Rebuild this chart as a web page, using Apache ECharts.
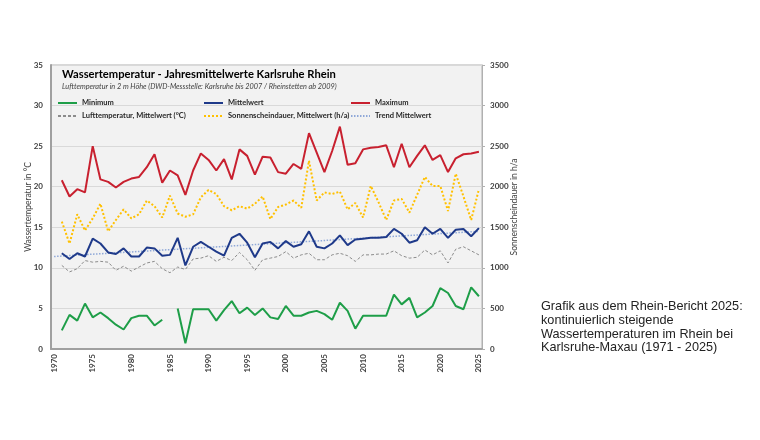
<!DOCTYPE html>
<html>
<head>
<meta charset="utf-8">
<script src="https://cdn.jsdelivr.net/npm/echarts@6/dist/echarts.min.js"></script>
<style>
  html, body { margin: 0; padding: 0; background: #fff; }
  #chart { width: 760px; height: 440px; }
</style>
</head>
<body>
<div id="chart"></div>
<script>
// years 1971..2025
const years = [
  1971, 1972, 1973, 1974, 1975, 1976, 1977, 1978, 1979, 1980,
  1981, 1982, 1983, 1984, 1985, 1986, 1987, 1988, 1989, 1990,
  1991, 1992, 1993, 1994, 1995, 1996, 1997, 1998, 1999, 2000,
  2001, 2002, 2003, 2004, 2005, 2006, 2007, 2008, 2009, 2010,
  2011, 2012, 2013, 2014, 2015, 2016, 2017, 2018, 2019, 2020,
  2021, 2022, 2023, 2024, 2025
];
const yearTicks = [1970, 1975, 1980, 1985, 1990, 1995, 2000, 2005, 2010, 2015, 2020, 2025];

// water temperature, °C
const minimum = [
  2.3, 4.2, 3.5, 5.6, 3.9, 4.5, 3.8, 3.0, 2.4, 3.8,
  4.1, 4.1, 2.9, 3.6, null, 5.0, 0.7, 4.9, 4.9, 4.9,
  3.5, 4.8, 5.9, 4.4, 5.1, 4.2, 5.0, 3.9, 3.7, 5.3,
  4.1, 4.1, 4.5, 4.7, 4.3, 3.6, 5.7, 4.7, 2.5, 4.1,
  4.1, 4.1, 4.1, 6.7, 5.5, 6.3, 3.9, 4.5, 5.3, 7.5,
  6.9, 5.3, 4.9, 7.6, 6.5
];
const mittelwert = [
  11.8, 11.1, 11.8, 11.4, 13.6, 13.0, 11.9, 11.7, 12.4, 11.4,
  11.4, 12.5, 12.4, 11.5, 11.6, 13.7, 10.3, 12.6, 13.2, 12.6,
  12.0, 11.5, 13.7, 14.2, 13.1, 11.3, 13.0, 13.2, 12.4, 13.3,
  12.6, 12.9, 14.5, 12.6, 12.4, 13.0, 14.0, 12.8, 13.5, 13.6,
  13.7, 13.7, 13.8, 14.8, 14.2, 13.1, 13.4, 15.0, 14.2, 14.8,
  13.7, 14.7, 14.8, 13.9, 14.9
];
const maximum = [
  20.8, 18.8, 19.7, 19.3, 25.0, 20.9, 20.6, 19.9, 20.6, 21.0,
  21.2, 22.4, 24.0, 20.5, 22.0, 21.4, 19.0, 22.0, 24.1, 23.3,
  22.0, 23.4, 20.9, 24.6, 23.8, 21.5, 23.7, 23.6, 21.8, 21.6,
  22.8, 22.2, 26.6, 24.2, 21.8, 24.4, 27.4, 22.7, 22.9, 24.6,
  24.8, 24.9, 25.1, 22.4, 25.3, 22.4, 23.8, 25.1, 23.3, 23.9,
  21.8, 23.5, 24.0, 24.1, 24.3
];
// air temperature, °C
const luft = [
  10.3, 9.5, 9.9, 10.9, 10.7, 10.8, 10.7, 9.7, 10.2, 9.6,
  10.1, 10.6, 10.8, 9.9, 9.4, 10.1, 9.8, 11.1, 11.2, 11.5,
  10.8, 11.3, 10.9, 11.9, 11.0, 9.7, 11.0, 11.2, 11.4, 12.0,
  11.2, 11.6, 11.8, 11.0, 11.0, 11.6, 11.8, 11.5, 10.8, 11.6,
  11.6, 11.7, 11.7, 12.1, 11.5, 11.2, 11.3, 12.2, 11.6, 12.1,
  10.6, 12.3, 12.6, 12.1, 11.6
];
// sunshine, h/a
const sonne = [
  1570, 1300, 1660, 1460, 1610, 1790, 1450, 1590, 1720, 1610,
  1660, 1830, 1760, 1620, 1890, 1670, 1630, 1660, 1870, 1960,
  1910, 1760, 1710, 1760, 1730, 1790, 1880, 1600, 1750, 1780,
  1830, 1740, 2320, 1830, 1930, 1910, 1940, 1720, 1800, 1620,
  2010, 1810, 1590, 1830, 1850, 1680, 1900, 2120, 2010, 2010,
  1700, 2160, 1880, 1590, 1970
];
// linear trend of the mean, end points
const trendYears = [1970, 2025];
const trendValues = [11.4, 14.5];

const seriesNames = [
  'Minimum', 'Mittelwert', 'Maximum',
  'Lufttemperatur, Mittelwert (°C)', 'Sonnenscheindauer, Mittelwert (h/a)', 'Trend Mittelwert'
];

const pair = (xs, ys) => xs.map((x, i) => [x, ys[i]]);

const axisFont = { color: '#404040', fontFamily: 'Lato', fontWeight: 'bold', fontSize: 8, formatter: (v) => String(v) };

// one legend per entry so the three columns line up like the original
const legendCols = [57, 203, 350];
const legendRows = [99, 112];
const legends = seriesNames.map((name, i) => ({
  left: legendCols[i % 3], top: legendRows[Math.floor(i / 3)], padding: 0,
  itemWidth: 19, itemHeight: 8,
  itemStyle: { opacity: 0 },
  data: [name],
  selectedMode: false,
  textStyle: { color: '#262626', fontFamily: 'Lato', fontWeight: 'bold', fontSize: 7.5 }
}));

const chart = echarts.init(document.getElementById('chart'));
chart.setOption({
  animation: false,
  backgroundColor: '#ffffff',
  title: {
    text: 'Wassertemperatur - Jahresmittelwerte Karlsruhe Rhein',
    subtext: 'Lufttemperatur in 2 m Höhe (DWD-Messstelle: Karlsruhe bis 2007 / Rheinstetten ab 2009)',
    left: 62,
    top: 69,
    itemGap: 3,
    padding: 0,
    textStyle: { fontFamily: 'Lato', fontWeight: 'bold', fontSize: 11.2, color: '#000' },
    subtextStyle: { fontFamily: 'Lato', fontStyle: 'italic', fontSize: 7.3, color: '#404040' }
  },
  legend: legends,
  grid: {
    left: 51, right: 278, top: 65, bottom: 91,
    show: true, backgroundColor: '#f2f2f2', borderColor: '#b0b0b0', borderWidth: 1
  },
  xAxis: {
    type: 'value', min: 1969.6, max: 2025.4,
    axisLine: { show: true, lineStyle: { color: '#a0a0a0', width: 2 } },
    axisTick: { show: false },
    splitLine: { show: false },
    axisLabel: Object.assign({ rotate: 90, margin: 5, customValues: yearTicks }, axisFont)
  },
  yAxis: [
    {
      type: 'value', min: 0, max: 35, interval: 5,
      name: 'Wassertemperatur in °C', nameLocation: 'middle', nameGap: 18, nameMoveOverlap: false,
      nameTextStyle: { color: '#404040', fontFamily: 'Lato', fontSize: 8.5 },
      axisLine: { show: true, lineStyle: { color: '#a0a0a0', width: 2 } },
      axisTick: { show: false },
      splitLine: { lineStyle: { color: '#d9d9d9', width: 1 } },
      axisLabel: Object.assign({ margin: 8 }, axisFont)
    },
    {
      type: 'value', min: 0, max: 3500, interval: 500, position: 'right',
      name: 'Sonnenscheindauer in h/a', nameLocation: 'middle', nameGap: 28, nameMoveOverlap: false,
      nameTextStyle: { color: '#404040', fontFamily: 'Lato', fontSize: 8.5 },
      axisLine: { show: true, lineStyle: { color: '#b0b0b0', width: 1 } },
      axisTick: { show: true, length: 3, lineStyle: { color: '#b0b0b0' } },
      splitLine: { show: false },
      axisLabel: Object.assign({ margin: 8 }, axisFont)
    }
  ],
  series: [
    {
      name: seriesNames[0], type: 'line', yAxisIndex: 0, symbol: 'none', connectNulls: false,
      lineStyle: { color: '#1e9e48', width: 2 }, itemStyle: { color: '#1e9e48' },
      data: pair(years, minimum), z: 5
    },
    {
      name: seriesNames[1], type: 'line', yAxisIndex: 0, symbol: 'none',
      lineStyle: { color: '#1f3a8a', width: 2 }, itemStyle: { color: '#1f3a8a' },
      data: pair(years, mittelwert), z: 5
    },
    {
      name: seriesNames[2], type: 'line', yAxisIndex: 0, symbol: 'none',
      lineStyle: { color: '#c8202f', width: 2 }, itemStyle: { color: '#c8202f' },
      data: pair(years, maximum), z: 5
    },
    {
      name: seriesNames[3], type: 'line', yAxisIndex: 0, symbol: 'none',
      lineStyle: { color: '#8c8c8c', width: 1, type: [3, 2] }, itemStyle: { color: '#8c8c8c' },
      data: pair(years, luft), z: 4
    },
    {
      name: seriesNames[4], type: 'line', yAxisIndex: 1, symbol: 'none',
      lineStyle: { color: '#ffc000', width: 2, type: [2, 2] }, itemStyle: { color: '#ffc000' },
      data: pair(years, sonne), z: 4
    },
    {
      name: seriesNames[5], type: 'line', yAxisIndex: 0, symbol: 'none',
      lineStyle: { color: '#8fa8d8', width: 1.5, type: [1.5, 1.5] }, itemStyle: { color: '#8fa8d8' },
      data: pair(trendYears, trendValues), z: 3
    }
  ],
  graphic: [
    {
      type: 'text', left: 541, top: 300,
      style: {
        text: 'Grafik aus dem Rhein-Bericht 2025:\nkontinuierlich steigende\nWassertemperaturen im Rhein bei\nKarlsruhe-Maxau (1971 - 2025)',
        font: '12.7px "Liberation Sans", Arial, sans-serif',
        fill: '#222222',
        lineHeight: 13.7
      }
    }
  ]
});
</script>
</body>
</html>
